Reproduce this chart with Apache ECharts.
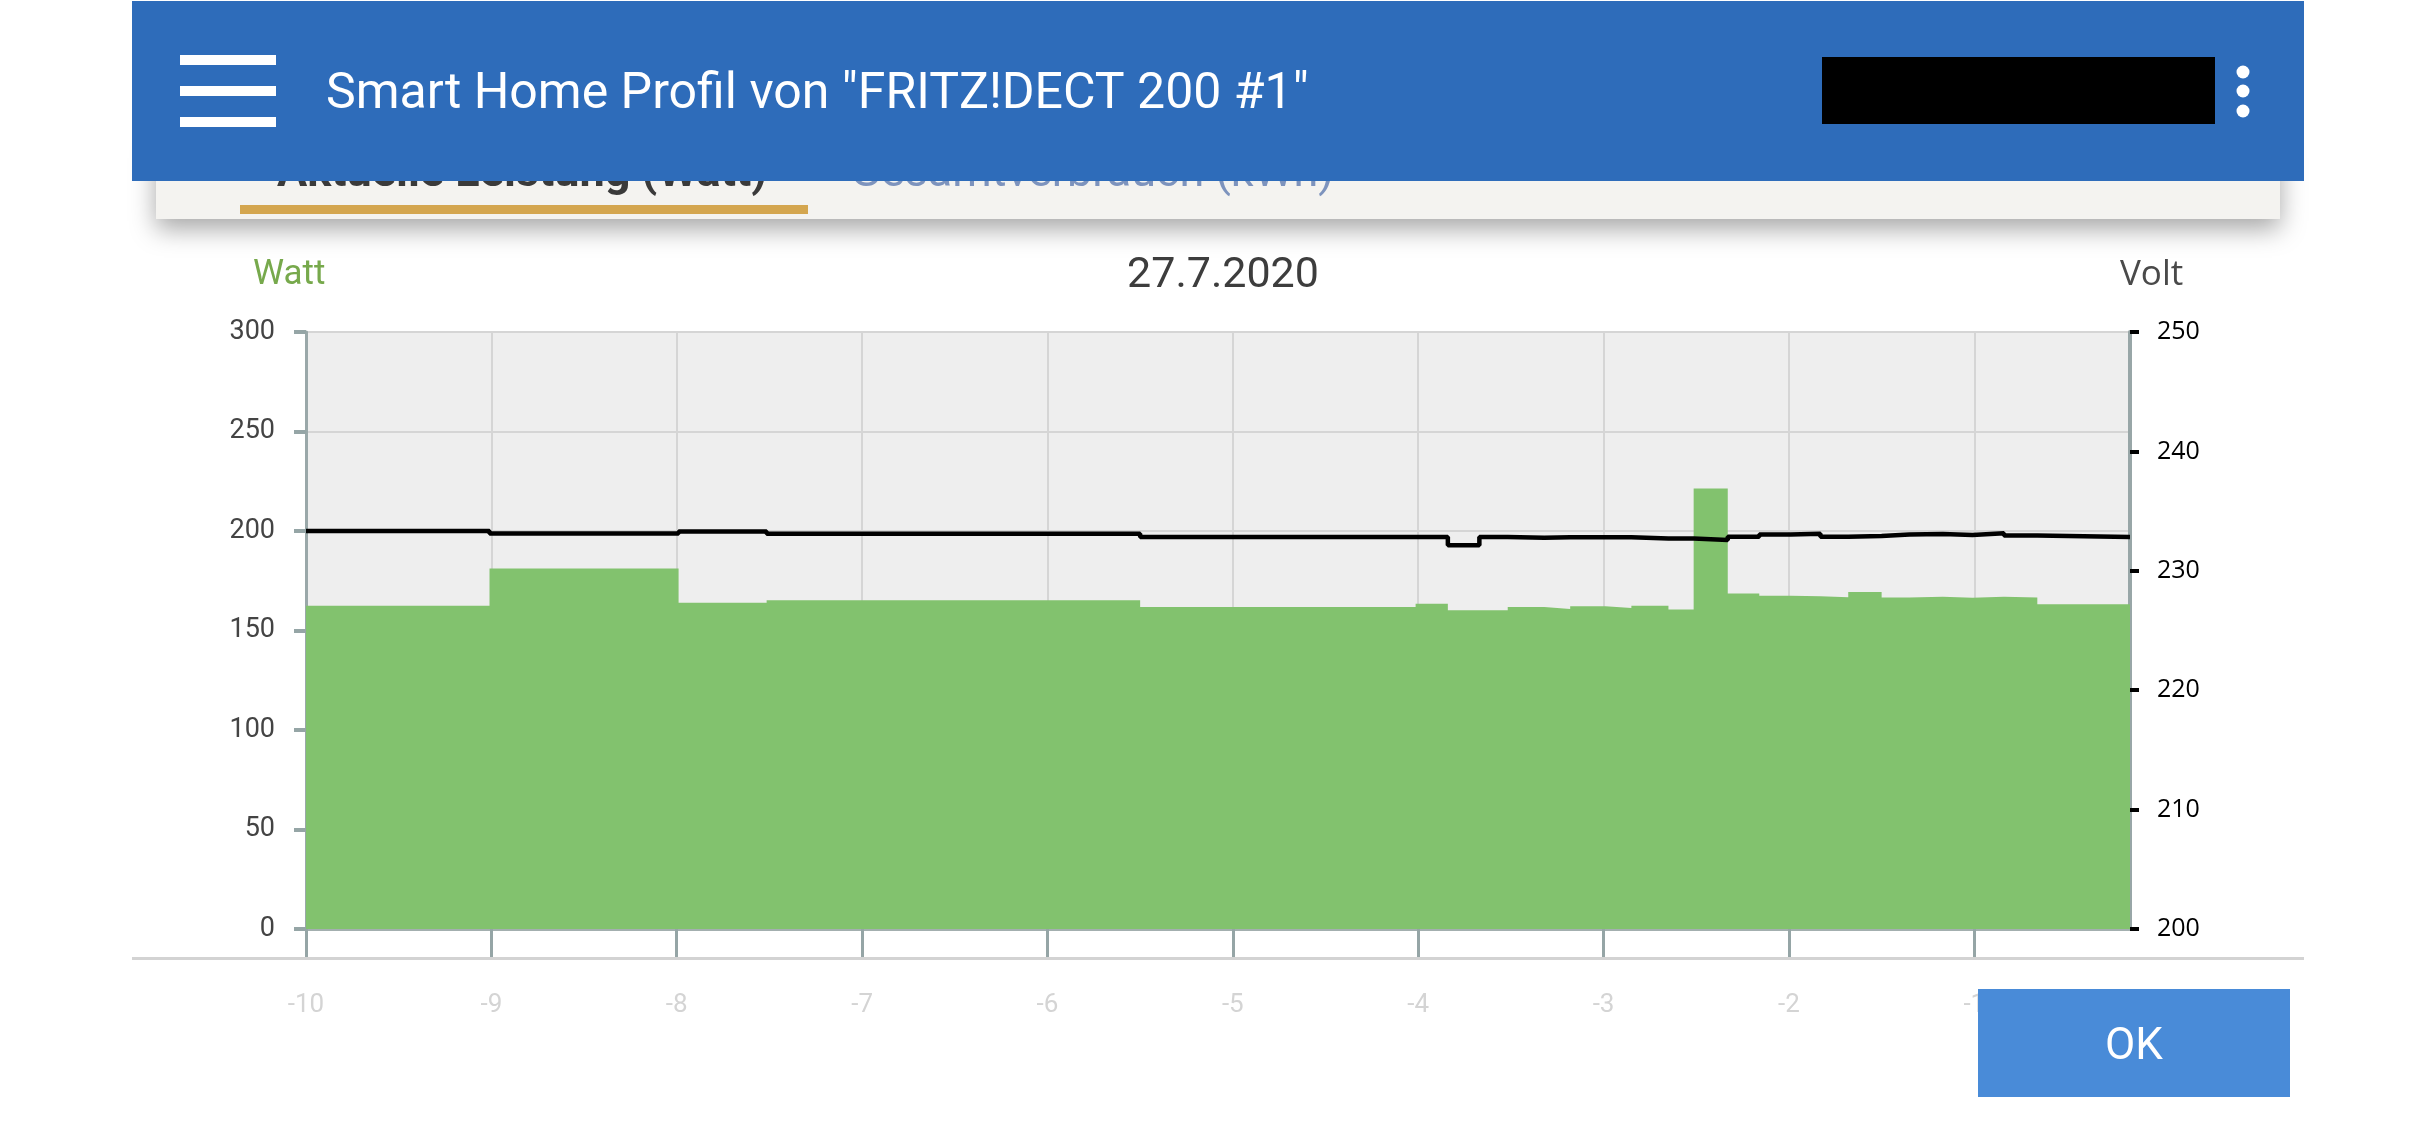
<!DOCTYPE html>
<html>
<head>
<meta charset="utf-8">
<script src="https://cdn.jsdelivr.net/npm/echarts@6/dist/echarts.min.js"></script>
<style>
html,body{margin:0;padding:0;background:#ffffff;}
#c{width:2436px;height:1125px;}
</style>
</head>
<body>
<div id="c"></div>
<script>
// ---- data (hours relative to now) ----
const times = [-10, -9.01, -7.99, -7.515, -5.5, -4.014, -3.84, -3.67, -3.517, -3.32, -3.18, -2.99, -2.85, -2.65, -2.514, -2.33, -2.16, -1.99, -1.83, -1.68, -1.5, -1.35, -1.17, -1.01, -0.84, -0.66, -0.16];
const watts = [162.5, 181.1, 164.0, 165.2, 161.8, 163.5, 160.2, 160.2, 161.8, 160.8, 162.2, 161.3, 162.5, 160.5, 221.3, 168.6, 167.5, 167.2, 166.7, 169.4, 166.6, 166.9, 166.4, 166.9, 166.6, 163.2, 163.2];
const volts = [233.33, 233.12, 233.30, 233.11, 232.83, 232.83, 232.14, 232.83, 232.77, 232.80, 232.80, 232.80, 232.70, 232.70, 232.58, 232.86, 233.03, 233.11, 232.86, 232.92, 233.03, 233.08, 233.00, 233.14, 232.95, 232.83, 232.83];
const xTickValues = [-10, -9, -8, -7, -6, -5, -4, -3, -2, -1];
const headerTitle = 'Smart Home Profil von "FRITZ!DECT 200 #1"';
const tabLabels = ['Aktuelle Leistung (Watt)', 'Gesamtverbrauch (kWh)'];
const dateLabel = '27.7.2020';
const leftUnit = 'Watt';
const rightUnit = 'Volt';
const okLabel = 'OK';

const wattData = times.map((t, i) => [t, watts[i]]);
const voltData = times.map((t, i) => [t, volts[i]]);

const chart = echarts.init(document.getElementById('c'), null, {renderer: 'canvas'});

const option = {
  animation: false,
  backgroundColor: '#ffffff',
  grid: {
    left: 306, right: 306, top: 332, bottom: 196,
    show: true, backgroundColor: '#eeeeee', borderWidth: 0
  },
  xAxis: {
    type: 'value', min: -10, max: -0.16, interval: 1,
    axisLine: {show: true, onZero: false, lineStyle: {color: '#a3afaf', width: 3}},
    axisTick: {show: true, length: 29, customValues: xTickValues, lineStyle: {color: '#95a5a6', width: 3}},
    axisLabel: {color: '#d4d4d4', fontSize: 26, fontFamily: 'Roboto', margin: 63, customValues: xTickValues},
    splitLine: {show: true, lineStyle: {color: '#d5d5d5', width: 2}}
  },
  yAxis: [
    {
      type: 'value', min: 0, max: 300, interval: 50, position: 'left',
      axisLine: {show: true, lineStyle: {color: '#9aa8a9', width: 3}},
      axisTick: {show: true, length: 12, lineStyle: {color: '#95a5a6', width: 4}},
      axisLabel: {color: '#444444', fontSize: 27, fontFamily: 'Roboto', margin: 31},
      splitLine: {show: true, lineStyle: {color: '#d5d5d5', width: 2}}
    },
    {
      type: 'value', min: 200, max: 250, interval: 10, position: 'right',
      axisLine: {show: true, lineStyle: {color: '#98a6a7', width: 4}},
      axisTick: {show: true, length: 9, lineStyle: {color: '#000000', width: 4}},
      axisLabel: {color: '#000000', fontSize: 25, fontFamily: 'Open Sans', margin: 27},
      splitLine: {show: false}
    }
  ],
  series: [
    {
      name: 'Watt', type: 'line', step: 'end', yAxisIndex: 0, data: wattData,
      symbol: 'none', lineStyle: {width: 0, color: '#82c26e'},
      itemStyle: {color: '#82c26e'},
      areaStyle: {color: '#82c26e', opacity: 1}, z: 2
    },
    {
      name: 'Volt', type: 'line', step: 'end', yAxisIndex: 1, data: voltData,
      symbol: 'none', lineStyle: {width: 4.5, color: '#000000'},
      itemStyle: {color: '#000000'}, z: 3
    }
  ],
  graphic: [
    // tab card
    {type: 'rect', z: 100, shape: {x: 156, y: 140, width: 2124, height: 79},
      style: {fill: '#f4f3f0', shadowBlur: 24, shadowOffsetY: 10, shadowColor: 'rgba(0,0,0,0.35)'}},
    {type: 'text', z: 101, x: 277, y: 175,
      style: {text: tabLabels[0], font: 'bold 45px Roboto', fill: '#3a3a3a', verticalAlign: 'middle'}},
    {type: 'text', z: 101, x: 850, y: 175,
      style: {text: tabLabels[1], font: '45px Roboto', fill: '#7d93bd', verticalAlign: 'middle'}},
    {type: 'rect', z: 101, shape: {x: 240, y: 205, width: 568, height: 9}, style: {fill: '#d4a64f'}},
    // header
    {type: 'rect', z: 102, shape: {x: 132, y: 1, width: 2172, height: 180}, style: {fill: '#2e6cba'}},
    {type: 'rect', z: 103, shape: {x: 180, y: 55, width: 96, height: 10}, style: {fill: '#ffffff'}},
    {type: 'rect', z: 103, shape: {x: 180, y: 86, width: 96, height: 10}, style: {fill: '#ffffff'}},
    {type: 'rect', z: 103, shape: {x: 180, y: 117, width: 96, height: 10}, style: {fill: '#ffffff'}},
    {type: 'text', z: 103, x: 326, y: 95,
      style: {text: headerTitle, font: '50px Roboto', fill: '#ffffff', verticalAlign: 'middle'}},
    {type: 'rect', z: 103, shape: {x: 1822, y: 57, width: 393, height: 67}, style: {fill: '#000000'}},
    {type: 'circle', z: 103, shape: {cx: 2243, cy: 72, r: 6.5}, style: {fill: '#ffffff'}},
    {type: 'circle', z: 103, shape: {cx: 2243, cy: 91, r: 6.5}, style: {fill: '#ffffff'}},
    {type: 'circle', z: 103, shape: {cx: 2243, cy: 111, r: 6.5}, style: {fill: '#ffffff'}},
    // chart captions
    {type: 'text', z: 10, x: 253, y: 275,
      style: {text: leftUnit, font: '35px Roboto', fill: '#77a94c', verticalAlign: 'middle'}},
    {type: 'text', z: 10, x: 1223, y: 276,
      style: {text: dateLabel, font: '43px Roboto', fill: '#3d3d3d', align: 'center', verticalAlign: 'middle'}},
    {type: 'text', z: 10, x: 2120, y: 275,
      style: {text: rightUnit, font: '35px "Open Sans"', fill: '#4a4a4a', verticalAlign: 'middle'}},
    // separator
    {type: 'rect', z: 1, shape: {x: 132, y: 957, width: 2172, height: 3}, style: {fill: '#d3d3d3'}},
    // OK button
    {type: 'rect', z: 110, shape: {x: 1978, y: 989, width: 312, height: 108}, style: {fill: '#498bd8'}},
    {type: 'text', z: 111, x: 2134, y: 1048,
      style: {text: okLabel, font: '44px Roboto', fill: '#ffffff', align: 'center', verticalAlign: 'middle'}}
  ]
};
chart.setOption(option);
</script>
</body>
</html>
